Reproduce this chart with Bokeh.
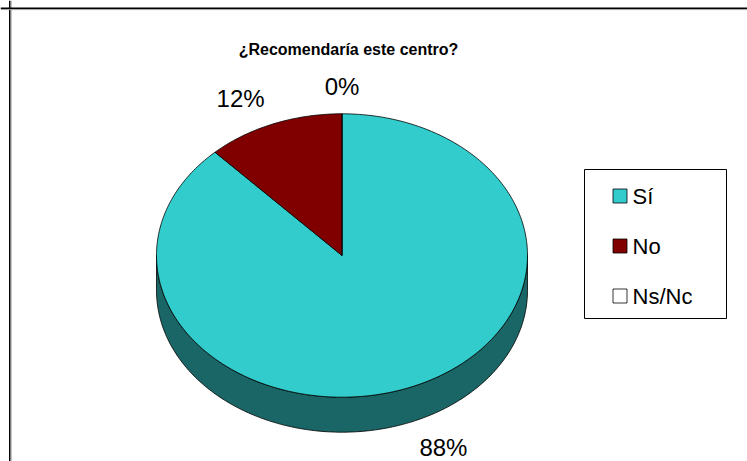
import numpy as np
from bokeh.plotting import figure
from bokeh.models import Range1d, Span, ColumnDataSource
from bokeh.embed import file_html
from bokeh.resources import INLINE
from bokeh.core.properties import value

# ---- data ----
title_text = "¿Recomendaría este centro?"
categories = ["Sí", "No", "Ns/Nc"]
values = [88, 12, 0]
top_colors = ["#33CCCC", "#800000", "#FFFFFF"]
side_colors = ["#1A6666", "#400000", "#808080"]

# ---- layout constants (pixels) ----
W, H = 747, 461
CX, CY = 341.5, 255.0
RX, RY = 185.5, 141.7
DEPTH = 35.0
LBL_RX, LBL_RY = RX + 90, RY + 27
FONT = "Liberation Sans"

p = figure(width=W, height=H, x_range=Range1d(0, W), y_range=Range1d(H, 0),
           output_backend="svg", toolbar_location=None, min_border=0,
           x_axis_type=None, y_axis_type=None)
p.grid.visible = False
p.outline_line_color = None
p.background_fill_color = "white"
p.border_fill_color = "white"

# chart border (left and top only visible)
p.add_layout(Span(location=9.3, dimension="height", line_color="black", line_width=1.6))
p.add_layout(Span(location=10.6, dimension="height", line_color="#A0A0A0", line_width=1))
p.add_layout(Span(location=7.8, dimension="width", line_color="black", line_width=1.6))
p.add_layout(Span(location=9.1, dimension="width", line_color="#A0A0A0", line_width=1))

vals = np.array(values, dtype=float)
frac = vals / vals.sum()
cum = np.concatenate([[0.0], np.cumsum(frac)]) * 2 * np.pi  # clockwise from 12 o'clock

def ex(a, r=RX):
    return CX + r * np.sin(a)

def ey(a, r=RY):
    return CY - r * np.cos(a)

# side (front, visible part: angles pi/2 .. 3pi/2)
side_xs, side_ys, side_fill = [], [], []
for i in range(len(values)):
    a0, a1 = max(cum[i], np.pi / 2), min(cum[i + 1], 3 * np.pi / 2)
    if a1 <= a0:
        continue
    a = np.linspace(a0, a1, 200)
    xs = list(ex(a)) + list(ex(a[::-1]))
    ys = list(ey(a)) + list(ey(a[::-1]) + DEPTH)
    side_xs.append(xs); side_ys.append(ys); side_fill.append(side_colors[i])
p.patches(xs="xs", ys="ys", source=ColumnDataSource(dict(xs=side_xs, ys=side_ys, c=side_fill)),
          fill_color="c", line_color="black", line_width=0.8)

# top faces
top_xs, top_ys, top_fill = [], [], []
for i in range(len(values)):
    if frac[i] <= 0:
        continue
    a = np.linspace(cum[i], cum[i + 1], max(3, int(frac[i] * 400)))
    top_xs.append([CX] + list(ex(a)))
    top_ys.append([CY] + list(ey(a)))
    top_fill.append(top_colors[i])
p.patches(xs="xs", ys="ys", source=ColumnDataSource(dict(xs=top_xs, ys=top_ys, c=top_fill)),
          fill_color="c", line_color="black", line_width=0.8)
# zero slice boundary line(s)
for i in range(len(values)):
    if frac[i] == 0:
        a = cum[i]
        p.line([CX, ex(a)], [CY, ey(a)], line_color="black", line_width=0.8)

# percentage labels
mid = (cum[:-1] + cum[1:]) / 2
lx = ex(mid, LBL_RX)
ly = ey(mid, LBL_RY) + np.where(np.cos(mid) < 0, DEPTH, 0)
lbls = [f"{v / vals.sum() * 100:.0f}%" for v in vals]
p.text(x=list(lx), y=list(ly), text=lbls, text_font=value(FONT), text_font_size=value("24px"),
       text_align="center", text_baseline="middle", text_color="black")

# title
p.text(x=[348], y=[49], text=[title_text], text_font=value(FONT), text_font_size=value("16px"),
       text_font_style="bold", text_align="center", text_baseline="middle", text_color="black")

# legend
LEFT, RIGHT, TOP, BOTTOM = 584, 726, 169, 318
p.quad(left=[LEFT], right=[RIGHT], top=[TOP], bottom=[BOTTOM], fill_color="white",
       line_color="black", line_width=1)
row_y = [195.5 + 50 * i for i in range(len(categories))]
p.rect(x=[619.5] * len(categories), y=row_y, width=14, height=14, fill_color=top_colors,
       line_color="black", line_width=0.8)
p.text(x=[632] * len(categories), y=row_y, text=categories, text_font=value(FONT),
       text_font_size=value("22px"), text_align="left", text_baseline="middle", text_color="black")

open("out.html", "w").write(file_html(p, INLINE))
